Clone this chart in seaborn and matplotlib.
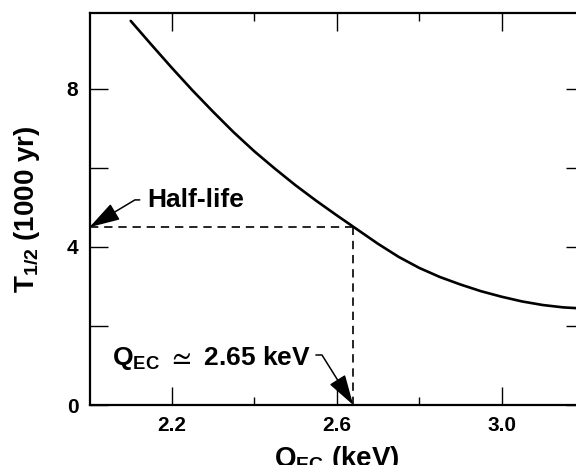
import matplotlib
matplotlib.use('Agg')
import matplotlib.pyplot as plt
import seaborn as sns
import pandas as pd

# Data
q_ec_kev = [2.10, 2.15, 2.20, 2.25, 2.30, 2.35, 2.40, 2.45, 2.50, 2.55, 2.60, 2.65,
            2.70, 2.75, 2.80, 2.85, 2.90, 2.95, 3.00, 3.05, 3.10, 3.15, 3.20]
t_half = [9.72, 9.12, 8.53, 7.96, 7.42, 6.90, 6.42, 5.98, 5.56, 5.17, 4.80, 4.44,
          4.08, 3.75, 3.47, 3.24, 3.05, 2.88, 2.74, 2.62, 2.53, 2.47, 2.44]
x_major_ticks = [2.2, 2.6, 3.0]
x_major_labels = ['2.2', '2.6', '3.0']
x_minor_ticks = [2.4, 2.8]
y_ticks = [0, 2, 4, 6, 8]
y_tick_labels = ['0', '', '4', '', '8']
half_life_value = 4.5
q_ec_value = 2.64

sns.set_theme(style='ticks')
plt.rcParams['font.family'] = ['Liberation Sans', 'DejaVu Sans']
plt.rcParams['font.weight'] = 'bold'
plt.rcParams['text.color'] = 'black'
plt.rcParams['axes.labelcolor'] = 'black'
plt.rcParams['xtick.color'] = 'black'
plt.rcParams['ytick.color'] = 'black'
plt.rcParams['mathtext.fontset'] = 'custom'
plt.rcParams['mathtext.rm'] = 'Liberation Sans:bold'
plt.rcParams['mathtext.it'] = 'Liberation Sans:bold'
plt.rcParams['mathtext.bf'] = 'Liberation Sans:bold'
plt.rcParams['mathtext.default'] = 'rm'
plt.rcParams['mathtext.fallback'] = 'stixsans'

fig = plt.figure(figsize=(5.76, 4.65), dpi=100)
ax = fig.add_axes([89.5 / 576, 60 / 465, (584 - 89.5) / 576, (405 - 13) / 465])

df = pd.DataFrame({'Q_EC': q_ec_kev, 'T_half': t_half})
sns.lineplot(data=df, x='Q_EC', y='T_half', ax=ax, color='black', lw=1.9)

ax.plot([2.0, q_ec_value], [half_life_value, half_life_value],
        ls=(0, (5, 3.5)), color='black', lw=1.2)
ax.plot([q_ec_value, q_ec_value], [0, half_life_value],
        ls=(0, (5, 3.5)), color='black', lw=1.2)

ax.set_xlim(2.0, 3.2)
ax.set_ylim(0, 9.92)

ax.set_xticks(x_major_ticks)
ax.set_xticklabels(x_major_labels)
ax.set_xticks(x_minor_ticks, minor=True)
ax.set_yticks(y_ticks)
ax.set_yticklabels(y_tick_labels)

ax.tick_params(which='major', direction='in', top=True, right=True,
               length=13, width=1.0, labelsize=15, pad=8, color='black',
               labelcolor='black')
ax.tick_params(which='minor', direction='in', top=True, right=True,
               length=6, width=1.0, color='black')
for lab in ax.get_xticklabels() + ax.get_yticklabels():
    lab.set_fontweight('bold')

for s in ax.spines.values():
    s.set_linewidth(1.6)
    s.set_color('black')

ax.set_xlabel(r'$\mathrm{Q_{EC}}$ (keV)', fontsize=20, fontweight='bold', color='black')
ax.xaxis.set_label_coords(0.5, (405 - 444) / 392)
ax.set_ylabel(r'$\mathrm{T_{1/2}}$ (1000 yr)', fontsize=20, fontweight='bold', color='black')
ax.yaxis.set_label_coords((42 - 89.5) / 494.5, 0.5)

arrow_kw = dict(arrowstyle='-|>,head_length=1.0,head_width=0.3', color='black',
                lw=1.1, shrinkB=0)
ax.annotate('Half-life', xy=(2.0, half_life_value), xytext=(2.14, 5.19),
            ha='left', va='center', fontsize=19, fontweight='bold', color='black',
            arrowprops=dict(**arrow_kw, shrinkA=3, relpos=(0, 0.5),
                            connectionstyle='angle,angleA=0,angleB=31,rad=0'))
ax.annotate(r'$\mathrm{Q_{EC}}\ \simeq$ 2.65 keV', xy=(q_ec_value, 0), xytext=(2.538, 1.18),
            ha='right', va='center', fontsize=19, fontweight='bold', color='black',
            arrowprops=dict(**arrow_kw, shrinkA=1, relpos=(1, 0.62),
                            connectionstyle='angle,angleA=0,angleB=122,rad=0'))

fig.savefig('out.png', dpi=100)
